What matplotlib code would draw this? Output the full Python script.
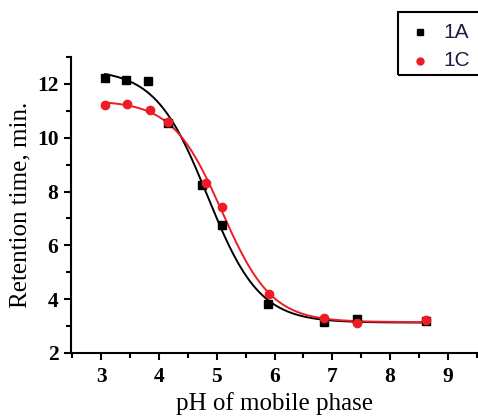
import numpy as np
import matplotlib
matplotlib.use("Agg")
import matplotlib.pyplot as plt
from matplotlib.lines import Line2D
from matplotlib.patches import Rectangle

ph_1a = [3.07, 3.43, 3.82, 4.15, 4.75, 5.09, 5.88, 6.86, 7.43, 8.62]
rt_1a = [12.22, 12.16, 12.10, 10.53, 8.26, 6.74, 3.82, 3.15, 3.25, 3.20]
ph_1c = [3.06, 3.44, 3.84, 4.16, 4.82, 5.09, 5.90, 6.86, 7.43, 8.62]
rt_1c = [11.20, 11.26, 11.02, 10.59, 8.32, 7.43, 4.20, 3.30, 3.11, 3.21]
labels = ["1A", "1C"]
xticks = [3, 4, 5, 6, 7, 8, 9]
yticks = [2, 4, 6, 8, 10, 12]


def boltzmann_fit(x, y):
    x = np.asarray(x, float); y = np.asarray(y, float)
    best = None
    for x0 in np.linspace(4.0, 6.0, 201):
        for dx in np.linspace(0.1, 1.0, 91):
            s = 1.0 / (1.0 + np.exp((x - x0) / dx))
            M = np.column_stack([s, 1 - s])
            coef, *_ = np.linalg.lstsq(M, y, rcond=None)
            r = np.sum((M @ coef - y) ** 2)
            if best is None or r < best[0]:
                best = (r, x0, dx, coef)
    _, x0, dx, (a1, a2) = best
    return lambda t: a2 + (a1 - a2) / (1.0 + np.exp((t - x0) / dx))


fig = plt.figure(figsize=(4.78, 4.16), dpi=100)
ax = fig.add_axes([71/478, 63/416, 407/478, 296/416])

serif = "Liberation Serif"
red = "#ee1c24"

for xs, ys, col, mk, ms in [(ph_1a, rt_1a, "black", "s", 6), (ph_1c, rt_1c, red, "o", 6)]:
    f = boltzmann_fit(xs, ys)
    t = np.linspace(min(xs), max(xs), 300)
    ax.plot(t, f(t), color=col, lw=1.4, zorder=2)
    ax.plot(xs, ys, ls="none", marker=mk, ms=ms, color=col, zorder=3)

ax.set_xlim(2.48, 9.52)
ax.set_ylim(2, 13)
ax.set_xticks(xticks)
ax.set_yticks(yticks)
ax.set_xticks(np.arange(2.5, 9.6, 1.0), minor=True)
ax.set_yticks(np.arange(3, 13.1, 2), minor=True)
ax.spines["top"].set_visible(False)
ax.spines["right"].set_visible(False)
for s in ["left", "bottom"]:
    ax.spines[s].set_linewidth(1.5)
ax.tick_params(which="major", direction="out", length=5, width=1.5)
ax.tick_params(which="minor", direction="out", length=3.5, width=1.5)
for lab in ax.get_xticklabels() + ax.get_yticklabels():
    lab.set_fontfamily(serif)
    lab.set_fontweight("bold")
    lab.set_fontsize(15.5)
ax.tick_params(axis="x", pad=5)
ax.tick_params(axis="y", pad=4)
ax.set_xlabel("pH of mobile phase", fontfamily=serif, fontsize=18, labelpad=4)
ax.set_ylabel("Retention time, min.", fontfamily=serif, fontsize=18, labelpad=4)

# legend box (partly outside figure)
W, H = 478, 416
rect = Rectangle((398/W, 1-75/H), 100/W, 63/H, transform=fig.transFigure,
                 fill=False, edgecolor="black", lw=1.5, clip_on=False)
fig.add_artist(rect)
txtcol = "#1e1e46"
fig.add_artist(Line2D([420/W], [1-32/H], marker="s", ms=5, color="black", ls="none",
                      transform=fig.transFigure))
fig.add_artist(Line2D([420/W], [1-61/H], marker="o", ms=5, color=red, ls="none",
                      transform=fig.transFigure))
fig.text(443/W, 1-32/H, labels[0], fontfamily="Liberation Sans", fontsize=15,
         color=txtcol, va="center")
fig.text(443/W, 1-61/H, labels[1], fontfamily="Liberation Sans", fontsize=15,
         color=txtcol, va="center")

fig.savefig("out.png", dpi=100)
